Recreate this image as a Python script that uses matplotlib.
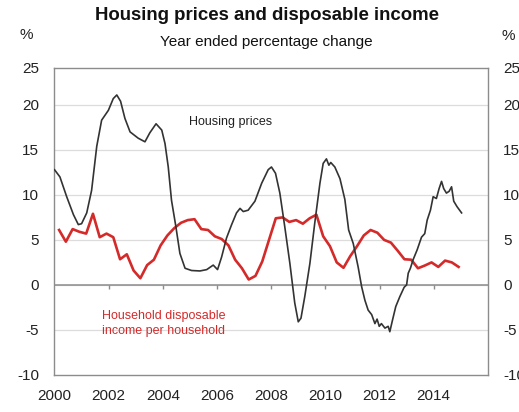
import numpy as np
import matplotlib.pyplot as plt

plt.rcParams['font.family'] = ['Liberation Sans', 'DejaVu Sans']

# Housing prices, year-ended % change (monthly-ish readings)
house_t = [2000.0, 2000.2, 2000.45, 2000.7, 2000.88, 2001.0, 2001.19, 2001.37, 2001.56, 2001.74,
           2001.99, 2002.17, 2002.3, 2002.44, 2002.6, 2002.79, 2003.09, 2003.34, 2003.52, 2003.75,
           2003.96, 2004.08, 2004.2, 2004.32, 2004.48, 2004.63, 2004.82, 2005.06, 2005.37, 2005.62,
           2005.86, 2006.02, 2006.17, 2006.35, 2006.54, 2006.72, 2006.85, 2006.97, 2007.15, 2007.4,
           2007.65, 2007.89, 2008.01, 2008.16, 2008.32, 2008.5, 2008.69, 2008.87, 2009.0, 2009.1,
           2009.24, 2009.43, 2009.61, 2009.8, 2009.92, 2010.04, 2010.13, 2010.2, 2010.35, 2010.54,
           2010.72, 2010.86, 2011.03, 2011.21, 2011.34, 2011.46, 2011.58, 2011.71, 2011.83, 2011.91,
           2011.99, 2012.07, 2012.2, 2012.32, 2012.38, 2012.48, 2012.6, 2012.75, 2012.91, 2013.0,
           2013.06, 2013.14, 2013.24, 2013.39, 2013.55, 2013.67, 2013.76, 2013.88, 2013.98, 2014.1,
           2014.2, 2014.29, 2014.37, 2014.47, 2014.57, 2014.66, 2014.74, 2014.86, 2015.03]
house_v = [12.8, 12.0, 9.8, 7.8, 6.7, 6.8, 8.0, 10.5, 15.4, 18.3,
           19.4, 20.7, 21.1, 20.4, 18.5, 17.0, 16.3, 15.9, 16.9, 17.9,
           17.2, 15.7, 13.1, 9.4, 6.5, 3.5, 1.85, 1.6, 1.55, 1.7,
           2.2, 1.7, 3.1, 5.2, 6.7, 8.0, 8.5, 8.15, 8.3, 9.3,
           11.3, 12.8, 13.1, 12.4, 10.2, 6.5, 2.4, -2.0, -4.1, -3.7,
           -1.3, 2.4, 6.9, 11.3, 13.5, 14.0, 13.3, 13.6, 13.1, 11.8,
           9.5, 6.1, 4.6, 2.0, -0.2, -1.7, -2.8, -3.3, -4.3, -3.8,
           -4.6, -4.3, -4.8, -4.6, -5.2, -3.9, -2.4, -1.3, -0.26, 0.0,
           1.3, 1.85, 2.8, 3.9, 5.3, 5.7, 7.2, 8.3, 9.8, 9.6,
           10.7, 11.5, 10.7, 10.2, 10.4, 10.9, 9.3, 8.7, 8.0]

# Household disposable income per household, quarterly
income_t = np.arange(2000.17, 2015.0, 0.25)
income_v = [6.1, 4.8, 6.2, 5.9, 5.7, 7.9, 5.3, 5.7,
            5.3, 2.85, 3.4, 1.6, 0.74, 2.2, 2.8, 4.4,
            5.5, 6.3, 6.9, 7.2, 7.3, 6.2, 6.1, 5.4,
            5.1, 4.4, 2.8, 1.85, 0.6, 1.0, 2.6, 5.0,
            7.4, 7.5, 7.0, 7.2, 6.8, 7.4, 7.8, 5.4,
            4.3, 2.5, 1.9, 3.2, 4.3, 5.5, 6.1, 5.8,
            5.0, 4.7, 3.8, 2.85, 2.8, 1.85, 2.15, 2.5,
            2.0, 2.7, 2.5, 2.0]

year_ticks = [2000, 2002, 2004, 2006, 2008, 2010, 2012, 2014]
y_ticks = [-10, -5, 0, 5, 10, 15, 20]
y_top = 24.1

fig = plt.figure(figsize=(5.19, 4.12), dpi=100)
ax = fig.add_axes([0.105, 0.09, 0.835, 0.745])

ax.set_xlim(2000, 2016)
ax.set_ylim(-10, y_top)

for v in y_ticks[1:]:
    ax.axhline(v, color='#dcdcdc', lw=0.9, zorder=0)
ax.axhline(0, color='#8c8c8c', lw=1.1, zorder=1)
ax.vlines(year_ticks[1:], -0.5, 0, color='#8c8c8c', lw=1.0)

ax.plot(income_t, income_v, color='#d42a2a', lw=1.9, zorder=3)
ax.plot(house_t, house_v, color='#333333', lw=1.2, zorder=4)

ax.text(2004.97, 18.1, 'Housing prices', fontsize=9, color='#222222', va='center')
ax.text(2001.74, -4.3, 'Household disposable\nincome per household', fontsize=9,
        color='#d42a2a', va='center', linespacing=1.35)

ax.set_xticks(year_ticks)
ax.set_xticklabels([str(y) for y in year_ticks])
ax.set_yticks(y_ticks + [y_top])
ax.set_yticklabels([str(v) for v in y_ticks] + ['25'])
ax.tick_params(axis='x', length=0, pad=10, labelsize=11, colors='#222222')
ax.tick_params(axis='y', length=0, pad=11, labelsize=11, colors='#222222',
               labelleft=True, labelright=True)

for s in ax.spines.values():
    s.set_color('#8c8c8c')
    s.set_linewidth(1.0)

fig.text(0.514, 0.962, 'Housing prices and disposable income', ha='center', va='center',
         fontsize=13.4, fontweight='bold', color='#111111')
fig.text(0.514, 0.898, 'Year ended percentage change', ha='center', va='center',
         fontsize=11, color='#111111')
fig.text(0.05, 0.915, '%', ha='center', va='center', fontsize=11, color='#222222')
fig.text(0.979, 0.913, '%', ha='center', va='center', fontsize=11, color='#222222')

fig.savefig('out.png', dpi=100, facecolor='white')
